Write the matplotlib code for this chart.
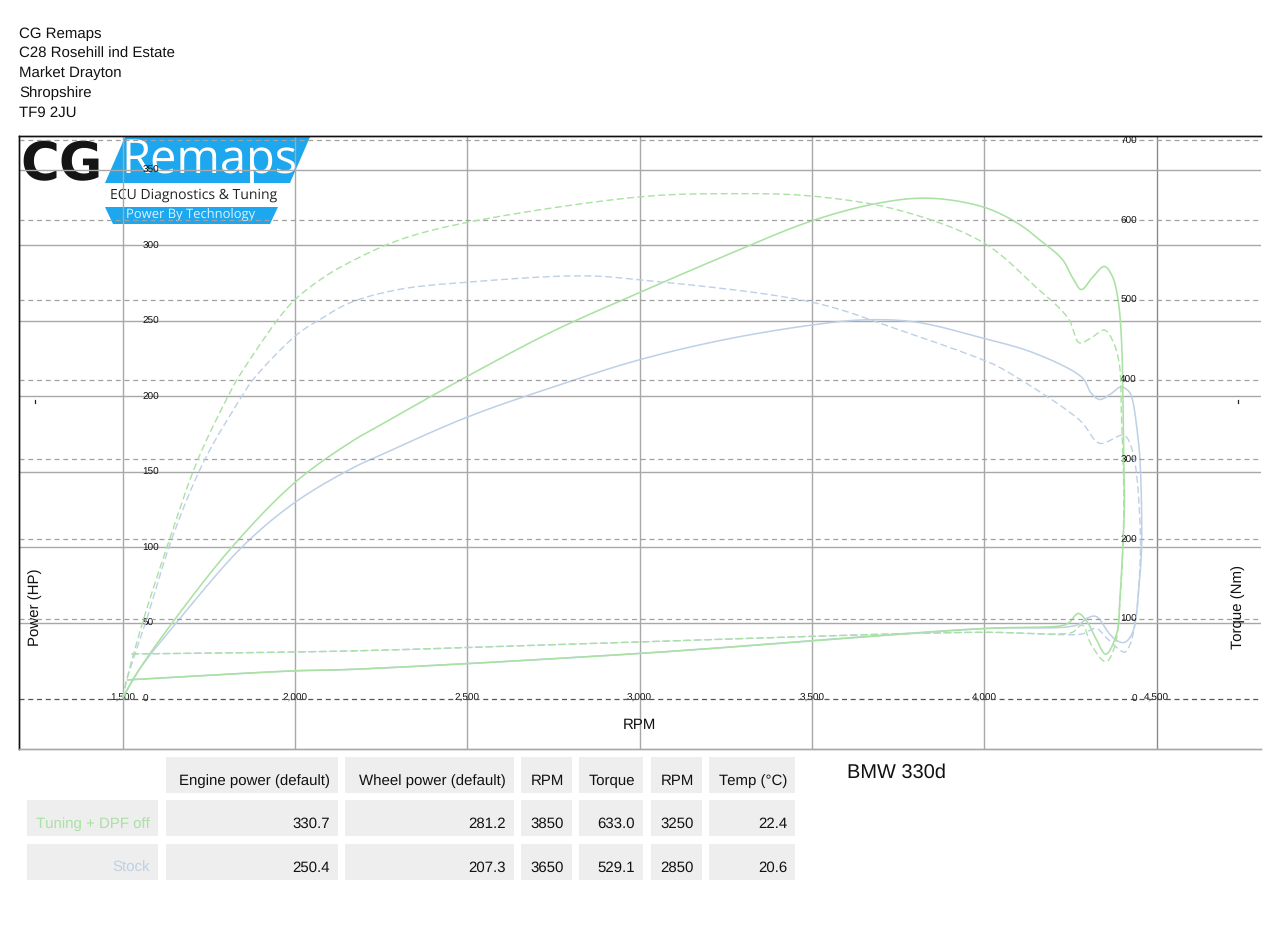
"""Dyno sheet: power and torque against RPM, tuned vs stock."""

import matplotlib

matplotlib.use("Agg")
import matplotlib.pyplot as plt
import numpy as np
from matplotlib.patches import Polygon, Rectangle

plt.rcParams["font.family"] = ["Liberation Sans", "DejaVu Sans"]
plt.rcParams["text.hinting"] = "no_hinting"
plt.rcParams["text.hinting_factor"] = 1

GREEN = "#a9e2a2"
BLUE = "#bdd0e6"
GRID = "#a8a8a8"
CELL = "#eeeeee"
FONT = 10.55
TICK_FONT = 7.4

ADDRESS = ["CG Remaps", "C28 Rosehill ind Estate", "Market Drayton", "Shropshire", "TF9 2JU"]

RPM_TICKS = [1500, 2000, 2500, 3000, 3500, 4000, 4500]
POWER_TICKS = [0, 50, 100, 150, 200, 250, 300, 350]
TORQUE_TICKS = [0, 100, 200, 300, 400, 500, 600, 700]

# run up, then the coast down back to the low rpm end
tuned_power_rpm = [1500, 1549, 1645, 1819, 2000, 2159, 2250, 2500, 2750, 3000, 3250, 3500, 3700, 3842, 4000,
                   4100, 4160, 4227, 4256, 4282, 4314, 4349, 4372, 4387, 4398, 4405, 4407, 4402, 4394, 4385,
                   4353, 4325, 4300, 4273, 4247, 4227, 4000, 3000, 2159, 2000, 1515]
tuned_power = [0, 19, 50, 100.3, 142.7, 169, 181, 213, 243, 268.5, 293, 316, 328, 331, 325,
               314, 303.6, 290.4, 278.5, 270.5, 278.5, 285.8, 279.2, 266, 239.4, 158, 131, 98, 67, 43,
               29, 39, 50, 56, 50, 48, 46, 29.5, 18.9, 18, 12]

stock_power_rpm = [1500, 1549, 1657, 1848, 2000, 2159, 2250, 2500, 2750, 3000, 3250, 3500, 3650, 3800, 3985,
                   4150, 4285, 4310, 4335, 4365, 4397, 4420, 4430, 4445, 4452, 4457, 4450, 4430,
                   4407, 4385, 4362, 4325, 4300, 4277, 4238, 4000, 3000, 2159, 2000, 1515]
stock_power = [0, 19, 50, 100.3, 129.5, 151.3, 161, 186, 206, 224, 237.5, 247, 250.4, 249, 239,
               228, 212, 202, 197.7, 201, 206, 203, 197.7, 175, 158, 102, 76.5, 43,
               36.8, 38, 43, 54, 53, 49, 47, 46, 29.5, 18.9, 18, 12]

tuned_torque_rpm = [1500, 1512, 1558, 1636, 1718, 1805, 1831, 1950, 2000, 2080, 2159, 2303, 2500, 3000, 3250,
                    3500, 3755, 4000, 4160, 4210, 4247, 4276, 4310, 4349, 4372, 4392, 4398, 4405, 4398, 4378,
                    4353, 4311, 4285, 4256, 4210, 4000, 3000, 2159, 1520]
tuned_torque = [0, 23, 95, 199, 299, 378, 399, 475, 500, 527, 547, 575, 597, 629, 633,
                630, 612, 571, 512, 493, 474.6, 446, 452, 462, 449.5, 420, 358, 249, 149, 64.5,
                46, 67, 92, 83, 81, 83, 71, 59.6, 55.8]

stock_torque_rpm = [1500, 1512, 1567, 1645, 1738, 1845, 1877, 2005, 2072, 2159, 2303, 2500, 2835, 3000, 3500, 3755,
                    4000, 4050, 4277, 4335, 4405, 4430, 4453, 4450, 4440, 4420, 4407, 4355, 4325,
                    4285, 4227, 4000, 3000, 2159, 1520]
stock_torque = [0, 23, 95, 202.5, 299, 378, 399, 456, 475, 496, 513, 522, 530, 525, 497, 462,
                424, 414, 349, 320, 330, 311, 211, 149, 99, 64.5, 58, 76, 88,
                81, 80, 83, 71, 59.6, 55.8]

COLUMNS = ["Engine power (default)", "Wheel power (default)", "RPM", "Torque", "RPM", "Temp (°C)"]
ROW_LABELS = ["Tuning + DPF off", "Stock"]
ROW_VALUES = [
    ["330.7", "281.2", "3850", "633.0", "3250", "22.4"],
    ["250.4", "207.3", "3650", "529.1", "2850", "20.6"],
]


def smooth(x, y, sx, sy, n=14):
    """Centripetal Catmull-Rom through the read points, only for drawing."""
    p = np.column_stack([np.asarray(x, float) * sx, np.asarray(y, float) * sy])
    p = np.vstack([2 * p[0] - p[1], p, 2 * p[-1] - p[-2]])
    out = []
    for i in range(1, len(p) - 2):
        p0, p1, p2, p3 = p[i - 1], p[i], p[i + 1], p[i + 2]
        t1 = np.linalg.norm(p1 - p0) ** 0.5
        t2 = t1 + np.linalg.norm(p2 - p1) ** 0.5
        t3 = t2 + np.linalg.norm(p3 - p2) ** 0.5
        for t in np.linspace(t1, t2, n, endpoint=False):
            a1 = ((t1 - t) * p0 + t * p1) / t1
            a2 = ((t2 - t) * p1 + (t - t1) * p2) / (t2 - t1)
            a3 = ((t3 - t) * p2 + (t - t2) * p3) / (t3 - t2)
            b1 = ((t2 - t) * a1 + t * a2) / t2
            b2 = ((t3 - t) * a2 + (t - t1) * a3) / (t3 - t1)
            out.append(((t2 - t) * b1 + (t - t1) * b2) / (t2 - t1))
    out.append(p[-2])
    out = np.array(out)
    return out[:, 0] / sx, out[:, 1] / sy


fig = plt.figure(figsize=(12.8, 9.26), dpi=100)

# page layer in pixel coordinates: header, logo, table
page = fig.add_axes([0, 0, 1, 1], zorder=0)
page.set_xlim(0, 1280)
page.set_ylim(926, 0)
page.axis("off")

for i, line in enumerate(ADDRESS):
    page.text(19, 34.5 + i * 19.5, line, fontsize=FONT, va="center", color="#111111")

# logo
page.add_patch(Polygon([(125, 137), (310, 137), (290, 183), (105, 183)], color="#1ca7ee", lw=0))
page.add_patch(Polygon([(105, 207), (278, 207), (270, 224), (113, 224)], color="#1ca7ee", lw=0))
page.text(20, 160, "CG", fontsize=38, fontweight="bold", va="center_baseline", color="#151515",
          family="DejaVu Sans")
page.text(121, 161, "Remaps", fontsize=34, va="center", color="white", family="Open Sans")
page.text(194, 195, "ECU Diagnostics & Tuning", fontsize=10, va="center", ha="center",
          color="#222222", family="Open Sans")
page.text(191, 215, "Power By Technology", fontsize=9.2, va="center", ha="center",
          color="#dff2ff", family="Open Sans")

# table
col_edges = [(166, 338), (345, 514), (521, 572), (579, 643), (651, 702), (709, 795)]
row_edges = [(757, 793), (800, 836), (844, 880)]
text_y = [781, 824, 868]


def cell(x0, x1, y0, y1, label, label_y, color="#111111"):
    page.add_patch(Rectangle((x0, y0), x1 - x0, y1 - y0, color=CELL, lw=0))
    page.text(x1 - 8, label_y, label, fontsize=FONT, ha="right", va="center", color=color)


for (x0, x1), name in zip(col_edges, COLUMNS):
    cell(x0, x1, *row_edges[0], name, text_y[0])
for r, (row_label, values) in enumerate(zip(ROW_LABELS, ROW_VALUES)):
    cell(27, 158, *row_edges[r + 1], row_label, text_y[r + 1], color=GREEN if r == 0 else BLUE)
    for (x0, x1), value in zip(col_edges, values):
        cell(x0, x1, *row_edges[r + 1], value, text_y[r + 1])
page.text(847, 773, "BMW 330d", fontsize=14.2, va="center", color="#111111")

# tiny marks next to the axis titles
page.plot([34.5, 34.5], [400, 403], color="#222222", lw=0.9)
page.plot([1237.5, 1237.5], [400, 403], color="#222222", lw=0.9)

# chart
left, right, top, bottom = 19, 1260.5, 136, 748.5
ax = fig.add_axes([left / 1280, 1 - bottom / 926, (right - left) / 1280, (bottom - top) / 926], zorder=1)
ax.patch.set_alpha(0)
ax2 = ax.twinx()
ax2.patch.set_alpha(0)

px_rpm = (1156.5 - 122.5) / 3000
px_hp = 1.51
px_nm = 0.7975
ax.set_xlim(1500 - (122.5 - left) / px_rpm, 4500 + (right - 1156.5) / px_rpm)
ax.set_ylim(-(bottom - 698) / px_hp, (698 - top) / px_hp)
ax2.set_ylim(-(bottom - 698.5) / px_nm, (698.5 - top) / px_nm)

ax.set_xticks(RPM_TICKS)
ax.set_xticklabels([f"{v:,}" for v in RPM_TICKS])
ax.set_yticks(POWER_TICKS)
ax2.set_yticks(TORQUE_TICKS)

ax.tick_params(axis="x", length=0, pad=-36.5, labelsize=TICK_FONT, labelcolor="#111111")
ax.tick_params(axis="y", length=0, pad=-89, labelsize=TICK_FONT, labelcolor="#111111")
ax2.tick_params(axis="y", length=0, pad=-89, labelsize=TICK_FONT, labelcolor="#111111")
for t in ax.get_xticklabels():
    t.set_va("center")
for t in ax.get_yticklabels():
    t.set_ha("left")
    t.set_va("center_baseline")
for t in ax2.get_yticklabels():
    t.set_ha("right")
    t.set_va("center_baseline")

ax.grid(True, color=GRID, lw=1.0, zorder=0)
ax.get_xgridlines()[-1].set_color("#8a8a8a")
ax.get_ygridlines()[0].set_visible(False)
ax2.grid(True, axis="y", color="#a0a0a0", lw=0.9, ls=(0, (4, 3)))
ax2.get_ygridlines()[0].set_color("#555555")
ax.set_axisbelow(True)

for a in (ax, ax2):
    a.spines["left"].set_color("#111111")
    a.spines["top"].set_color("#111111")
    a.spines["bottom"].set_color(GRID)
    a.spines["right"].set_visible(False)
    for s in a.spines.values():
        s.set_linewidth(1.0)

ax.set_xlabel("RPM", fontsize=FONT, color="#111111")
ax.xaxis.set_label_coords(0.5, (bottom - 725) / (bottom - top), transform=ax.transAxes)
ax.xaxis.label.set_va("center")
ax.set_ylabel("Power (HP)", fontsize=FONT, color="#111111")
ax.yaxis.set_label_coords((35 - left) / (right - left), (bottom - 607) / (bottom - top))
ax.yaxis.label.set_va("center")
ax2.set_ylabel("Torque (Nm)", fontsize=FONT, color="#111111", rotation=90)
ax2.yaxis.set_label_coords((1238 - left) / (right - left), (bottom - 607) / (bottom - top))
ax2.yaxis.label.set_va("center")

dash = (0, (5, 2.5))
ax2.plot(*smooth(stock_torque_rpm, stock_torque, px_rpm, px_nm), color=BLUE, lw=1.0, ls=dash)
ax.plot(*smooth(stock_power_rpm, stock_power, px_rpm, px_hp), color=BLUE, lw=1.1)
ax2.plot(*smooth(tuned_torque_rpm, tuned_torque, px_rpm, px_nm), color=GREEN, lw=1.0, ls=dash)
ax.plot(*smooth(tuned_power_rpm, tuned_power, px_rpm, px_hp), color=GREEN, lw=1.15)

fig.savefig("out.png", dpi=100)
